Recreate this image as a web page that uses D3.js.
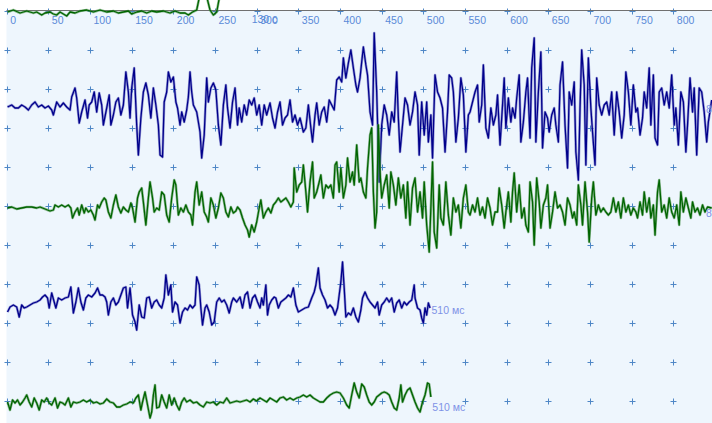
<!DOCTYPE html>
<html>
<head>
<meta charset="utf-8">
<script src="https://cdn.jsdelivr.net/npm/d3@7"></script>
<style>
  html, body { margin: 0; padding: 0; background: #ffffff; }
  svg { display: block; }
  text { font-family: "Liberation Sans", Arial, sans-serif; }
</style>
</head>
<body>
<svg id="chart" width="712" height="423"></svg>
<script>
// Time axis ticks (ms)
const timeTicks = [0, 50, 100, 150, 200, 250, 300, 350, 400, 450, 500, 550, 600, 650, 700, 750, 800];
const gridColumns = d3.range(0, 851, 50);
const gridRows = d3.range(0, 11);

// Channel traces: [time ms, amplitude]
const traceTop = [[1,-4],[8,-2],[16,-5],[24,-3],[32,-5],[36,-4],[42,-7],[46,-5],[52,-4],[56,-6],[60,-7],[64,-4],[68,-6],[72,-8],[76,-4],[82,-5],[88,-3],[96,-2],[104,-4],[112,-2],[120,-4],[128,-3],[134,-5],[140,-4],[146,-3],[150,-6],[156,-4],[162,-3],[168,-5],[174,-3],[180,-4],[188,-3],[196,-5],[202,-3],[208,-5],[214,-5],[218,-7],[223,-4],[228,-2],[232,14],[238,18],[244,-2],[248,-7],[252,-4],[256,14],[264,22],[280,24]];

const trace1 = [[1,-2],[6,0],[10,-3],[14,-3],[18,0],[22,-2],[26,-5],[30,0],[34,3],[38,-2],[42,0],[46,-3],[50,-1],[54,-5],[56,-10],[60,3],[64,-2],[68,2],[72,-2],[76,-5],[78,8],[82,17],[84,7],[87,-18],[90,-7],[94,5],[97,-13],[99,0],[102,3],[105,13],[108,-7],[111,12],[114,0],[116,-20],[120,-3],[123,10],[125,-20],[128,-10],[131,3],[134,7],[137,-10],[140,0],[143,33],[146,13],[148,-13],[150,17],[153,37],[156,-20],[158,-50],[161,-13],[164,13],[167,22],[170,10],[173,-13],[176,17],[179,0],[182,-20],[184,-50],[187,-52],[189,3],[192,13],[194,33],[197,23],[200,28],[203,3],[205,-3],[208,-20],[210,-7],[213,-17],[216,-5],[218,8],[220,33],[222,13],[224,0],[228,-7],[232,-27],[234,-53],[237,-30],[240,27],[242,3],[245,17],[248,22],[251,15],[254,-20],[257,-40],[260,0],[263,20],[265,-3],[268,-23],[271,3],[274,17],[277,-20],[279,-3],[282,-17],[285,0],[288,-10],[291,5],[294,0],[297,7],[300,-10],[303,0],[306,-20],[309,0],[312,-10],[316,2],[319,-13],[322,-23],[325,-7],[328,3],[331,-20],[334,-13],[337,-10],[340,5],[343,-17],[346,-10],[349,-20],[352,-13],[356,-27],[359,-23],[362,0],[365,-23],[367,-37],[370,-10],[372,2],[375,-20],[378,-7],[381,-2],[384,-17],[387,5],[390,0],[393,-5],[396,25],[399,28],[402,23],[404,47],[407,27],[410,42],[413,55],[416,37],[419,20],[421,13],[424,27],[426,43],[428,58],[431,40],[433,30],[436,-7],[439,-20],[441,72],[444,13],[447,-77],[450,-20],[453,0],[456,-10],[459,-30],[462,-7],[465,-17],[468,33],[470,-13],[472,-47],[475,-20],[478,7],[481,0],[484,-20],[487,-7],[490,13],[493,0],[495,-50],[498,3],[501,-30],[504,3],[506,-37],[509,-10],[511,-53],[514,30],[517,13],[520,7],[523,-3],[526,-47],[529,-7],[531,30],[534,27],[536,13],[539,-37],[542,-13],[545,27],[548,10],[551,-47],[554,-10],[556,-7],[559,3],[562,13],[565,20],[567,-17],[570,0],[572,40],[575,-23],[578,-33],[581,-3],[584,-20],[587,-10],[589,10],[592,-40],[595,0],[597,27],[599,-23],[602,7],[605,-17],[607,-3],[610,-13],[612,7],[615,30],[617,-37],[620,-17],[623,13],[625,27],[628,-33],[630,37],[633,67],[635,-37],[638,13],[641,53],[643,-43],[646,-7],[649,-13],[651,-27],[654,-10],[657,-3],[659,-20],[662,-37],[664,20],[667,43],[670,-20],[673,-63],[675,13],[678,0],[681,23],[683,-47],[686,-75],[688,-3],[690,55],[693,20],[695,-60],[698,47],[701,-3],[703,-27],[706,-60],[708,27],[711,0],[714,-10],[717,0],[720,3],[723,-10],[726,13],[729,-30],[732,13],[735,-7],[738,-33],[741,-10],[743,33],[746,13],[749,-20],[752,20],[755,-7],[757,-3],[760,-30],[763,-13],[765,13],[768,-3],[771,37],[773,-20],[776,30],[778,-33],[781,-40],[783,13],[786,17],[789,0],[792,13],[795,-3],[798,30],[801,-20],[803,-3],[806,-40],[809,13],[812,3],[815,-47],[817,-20],[820,27],[823,-7],[825,17],[828,-50],[831,17],[834,13],[837,-7],[840,-37],[842,-17],[846,5]];

const trace2 = [[1,0],[6,1],[12,-1],[18,0],[24,1],[30,1],[36,0],[40,1],[46,-1],[52,-3],[56,-2],[58,3],[62,1],[66,3],[70,1],[74,3],[77,0],[79,-10],[82,-4],[85,0],[87,-7],[90,3],[93,-5],[95,0],[98,-4],[101,-2],[104,-7],[106,-12],[109,3],[111,0],[114,6],[117,10],[119,8],[122,-4],[125,-10],[128,3],[131,13],[134,1],[137,-5],[140,1],[143,-2],[146,-4],[149,5],[151,0],[154,-14],[157,10],[159,16],[162,20],[164,6],[167,-17],[170,10],[172,26],[175,10],[177,-4],[180,0],[183,-2],[186,16],[189,13],[192,-7],[195,-14],[198,10],[201,28],[203,23],[206,-7],[209,0],[212,-4],[215,3],[218,-4],[221,-7],[223,-17],[226,16],[228,26],[231,3],[234,16],[237,-4],[240,-9],[242,-14],[245,10],[248,3],[251,-10],[254,0],[257,15],[260,10],[263,-4],[266,-9],[269,1],[272,-5],[275,-3],[277,1],[280,-2],[283,-10],[286,-17],[289,-22],[291,-29],[294,-17],[297,-24],[300,-14],[303,0],[305,8],[308,-10],[311,-4],[314,0],[317,-5],[320,3],[323,6],[326,10],[329,6],[332,8],[335,10],[338,6],[341,1],[344,6],[345,40],[348,16],[351,23],[354,26],[356,43],[359,16],[361,-4],[364,26],[367,46],[369,10],[372,16],[375,26],[377,33],[380,10],[383,23],[386,20],[389,23],[392,10],[394,43],[396,46],[399,16],[401,40],[404,10],[407,23],[409,50],[412,26],[415,36],[417,23],[420,63],[423,26],[425,30],[428,16],[431,10],[433,40],[436,73],[438,80],[440,16],[442,-20],[444,-4],[446,83],[448,36],[450,10],[453,23],[456,33],[459,0],[461,36],[464,23],[467,3],[470,30],[473,10],[476,23],[479,-10],[481,26],[484,-17],[487,20],[490,30],[493,-4],[496,16],[499,-10],[501,26],[504,-17],[507,-44],[509,0],[511,46],[513,-24],[516,-40],[519,23],[521,-10],[524,-17],[527,26],[530,-7],[533,-27],[536,10],[539,-4],[542,3],[545,-20],[548,10],[551,23],[554,-4],[556,-7],[559,3],[562,-4],[565,10],[568,-7],[571,1],[574,-10],[577,10],[580,0],[583,-17],[586,-4],[589,-4],[591,20],[594,3],[597,-20],[599,-4],[602,16],[605,-14],[607,16],[609,35],[612,-4],[615,23],[618,-10],[621,0],[623,-17],[626,-24],[628,26],[631,6],[633,-37],[636,30],[639,6],[641,-20],[644,3],[647,10],[649,23],[652,-20],[655,-4],[658,16],[661,0],[664,3],[667,-4],[670,-17],[673,10],[676,3],[679,-10],[681,-4],[684,-17],[686,23],[689,3],[691,-17],[694,26],[697,-4],[699,-34],[702,10],[704,26],[707,-7],[710,3],[713,-4],[716,0],[719,-4],[722,-7],[725,-4],[728,10],[731,-4],[734,6],[737,-10],[740,10],[743,-4],[746,3],[749,-7],[752,0],[755,-4],[757,-10],[760,6],[763,-7],[765,16],[768,-4],[771,10],[773,-10],[776,3],[778,-27],[781,16],[783,28],[786,-4],[789,3],[792,-10],[795,10],[798,-4],[801,-10],[804,3],[807,-17],[809,16],[812,-4],[815,10],[818,0],[821,-10],[823,6],[826,-4],[829,0],[832,-7],[835,3],[838,-4],[841,1],[846,0]];

const trace3 = [[1,-7],[4,-2],[8,0],[12,-2],[15,-12],[18,0],[21,-3],[24,-2],[28,0],[32,2],[36,3],[40,5],[43,8],[46,10],[49,7],[51,-3],[54,12],[57,3],[59,-3],[62,7],[66,5],[70,7],[74,8],[77,18],[80,-8],[83,3],[86,17],[89,3],[92,-5],[95,7],[98,10],[102,8],[106,12],[109,17],[112,10],[115,10],[118,8],[120,3],[122,-10],[125,3],[128,7],[131,0],[134,3],[137,10],[140,17],[143,18],[145,-3],[148,17],[151,-10],[154,-17],[156,-25],[159,0],[162,-12],[165,-13],[168,7],[171,8],[174,-3],[177,3],[180,5],[183,0],[186,-3],[189,7],[191,30],[194,10],[197,20],[199,-7],[202,3],[205,0],[208,-18],[211,-7],[214,-3],[217,-5],[220,0],[223,-3],[226,0],[228,28],[231,20],[233,-3],[235,-20],[238,-3],[240,0],[243,-7],[246,-20],[249,-17],[252,3],[255,7],[258,3],[261,5],[264,0],[267,-8],[270,3],[272,7],[276,3],[280,8],[283,-3],[286,10],[289,13],[292,-3],[295,7],[298,10],[301,3],[304,-3],[306,7],[308,0],[311,20],[313,-10],[315,0],[318,5],[321,8],[323,7],[326,-3],[329,3],[332,5],[335,7],[338,10],[341,8],[344,17],[347,0],[350,-7],[354,-5],[358,-3],[362,-2],[366,7],[369,13],[371,20],[374,37],[376,17],[379,10],[382,5],[385,-3],[388,0],[391,-3],[394,-10],[397,-3],[399,10],[401,23],[403,43],[405,17],[407,-12],[410,-8],[413,-10],[416,-3],[419,-12],[422,-17],[425,-5],[427,7],[430,13],[433,7],[436,3],[439,0],[442,-3],[445,3],[447,-10],[450,0],[453,3],[456,7],[459,3],[462,7],[465,-7],[468,2],[471,5],[474,-3],[477,3],[480,0],[483,3],[486,5],[489,20],[490,7],[493,-3],[496,-5],[498,-13],[500,-18],[502,-3],[504,-10],[506,2],[508,-3]];

const trace4 = [[1,1],[4,-7],[7,3],[10,0],[13,3],[16,-2],[19,1],[22,5],[24,8],[27,1],[30,-4],[33,5],[36,0],[39,-7],[42,3],[45,1],[48,5],[51,0],[54,-2],[58,5],[61,-5],[64,1],[67,0],[70,-2],[74,5],[77,-4],[80,1],[84,0],[88,1],[92,3],[96,1],[100,3],[104,0],[108,1],[112,-1],[116,0],[120,4],[124,1],[128,0],[132,-4],[136,-4],[140,-2],[144,-1],[148,1],[152,0],[155,5],[158,8],[161,-7],[163,1],[166,11],[169,-2],[172,-15],[174,-9],[176,8],[178,18],[180,-5],[183,-4],[186,8],[189,1],[192,-5],[195,8],[198,-2],[201,5],[204,-2],[207,-7],[210,1],[213,5],[216,1],[220,3],[224,0],[228,1],[232,-2],[236,-4],[240,1],[244,0],[248,1],[252,-2],[256,1],[260,0],[264,5],[268,0],[272,1],[276,2],[280,1],[284,2],[288,3],[292,1],[296,4],[300,2],[304,5],[308,3],[312,1],[316,5],[320,3],[324,1],[328,5],[332,6],[336,3],[340,5],[344,3],[348,5],[352,6],[356,8],[360,6],[364,8],[368,5],[372,3],[376,1],[380,1],[384,5],[388,8],[392,10],[396,11],[400,10],[404,5],[408,-2],[411,-5],[414,8],[417,20],[420,11],[423,5],[426,19],[429,16],[432,8],[435,1],[438,-2],[441,1],[444,6],[447,8],[450,10],[453,11],[456,10],[459,8],[462,1],[465,-5],[468,-7],[471,5],[473,18],[475,1],[478,8],[481,13],[484,15],[487,8],[490,1],[493,-5],[496,-9],[499,1],[502,8],[505,20],[507,19],[509,6]];

// Trace end labels
const endLabels = ["850 мс", "850 мс", "510 мс", "510 мс"];
const markerLabel = "130 с";

const W = 712, H = 423;
const svg = d3.select("#chart");

// Time scale (ms -> px) and per-channel amplitude scale
const x = d3.scaleLinear().domain([0, 846]).range([6.7, 711.7]);
const amp = d3.scaleLinear().domain([-100, 100]).range([100, -100]);
const rowY = d3.scaleLinear().domain([0, 10]).range([11.3, 401.3]);

const plotLeft = x(0) - 0.2, plotTop = 10;

// Plot background
svg.append("rect")
  .attr("x", plotLeft).attr("y", plotTop)
  .attr("width", W - plotLeft).attr("height", H - plotTop)
  .attr("fill", "#eef6fd");

// Grid "+" marks
const gridG = svg.append("g").attr("stroke", "#4f87c6").attr("stroke-width", 1);
gridRows.forEach(r => {
  gridColumns.forEach(c => {
    const cx = Math.round(x(c)) + 0.5, cy = Math.round(rowY(r)) + 0.5;
    gridG.append("line").attr("x1", cx - 3).attr("x2", cx + 3).attr("y1", cy).attr("y2", cy);
    gridG.append("line").attr("x1", cx).attr("x2", cx).attr("y1", cy - 3).attr("y2", cy + 3);
  });
});

// Top border
svg.append("line")
  .attr("x1", plotLeft).attr("x2", W)
  .attr("y1", plotTop + 0.5).attr("y2", plotTop + 0.5)
  .attr("stroke", "#707070").attr("stroke-width", 1);

// Time axis along the top (labels sit just right of each tick)
const axis = d3.axisTop(x).tickValues(timeTicks).tickSize(0).tickPadding(0);
const axisG = svg.append("g").attr("transform", "translate(0,24)").call(axis);
axisG.select(".domain").remove();
axisG.selectAll("text")
  .attr("text-anchor", "start")
  .attr("dx", 3)
  .attr("y", 0).attr("dy", 0)
  .attr("fill", "#5a8ad8")
  .style("font-size", "10.5px")
  .style("font-family", "'Liberation Sans', Arial, sans-serif");

svg.append("text")
  .attr("x", x(300) - 5).attr("y", 23)
  .attr("fill", "#5a8ad8")
  .style("font-size", "10.5px")
  .text(markerLabel);

// Channels
const channels = [
  { data: traceTop, base: 8,   core: "#006400", halo: "#4f954f" },
  { data: trace1,   base: 105, core: "#00008b", halo: "#5f5fbd" },
  { data: trace2,   base: 208, core: "#006400", halo: "#4f954f" },
  { data: trace3,   base: 305, core: "#00008b", halo: "#5f5fbd" },
  { data: trace4,   base: 403, core: "#006400", halo: "#4f954f" }
];

channels.forEach(ch => {
  const line = d3.line()
    .x(d => x(d[0]))
    .y(d => ch.base + amp(d[1]));
  svg.append("path").datum(ch.data)
    .attr("d", line).attr("fill", "none")
    .attr("stroke", ch.halo).attr("stroke-width", 2.6)
    .attr("stroke-opacity", 0.6).attr("stroke-linejoin", "round");
  svg.append("path").datum(ch.data)
    .attr("d", line).attr("fill", "none")
    .attr("stroke", ch.core).attr("stroke-width", 1.3)
    .attr("stroke-linejoin", "round");
});

// End labels
const labelSpots = [
  { ch: 1, x: 706, dy: 8 },
  { ch: 2, x: 706, dy: 9 },
  { ch: 3, xFrom: trace3, dy: 9 },
  { ch: 4, xFrom: trace4, dy: 8 }
];
labelSpots.forEach((s, i) => {
  const ch = channels[s.ch];
  const lx = s.xFrom ? x(s.xFrom[s.xFrom.length - 1][0]) + 1.5 : s.x;
  svg.append("text")
    .attr("x", lx).attr("y", ch.base + s.dy)
    .attr("fill", "#7e92e6")
    .style("font-size", "10.5px")
    .text(endLabels[i]);
});
</script>
</body>
</html>
